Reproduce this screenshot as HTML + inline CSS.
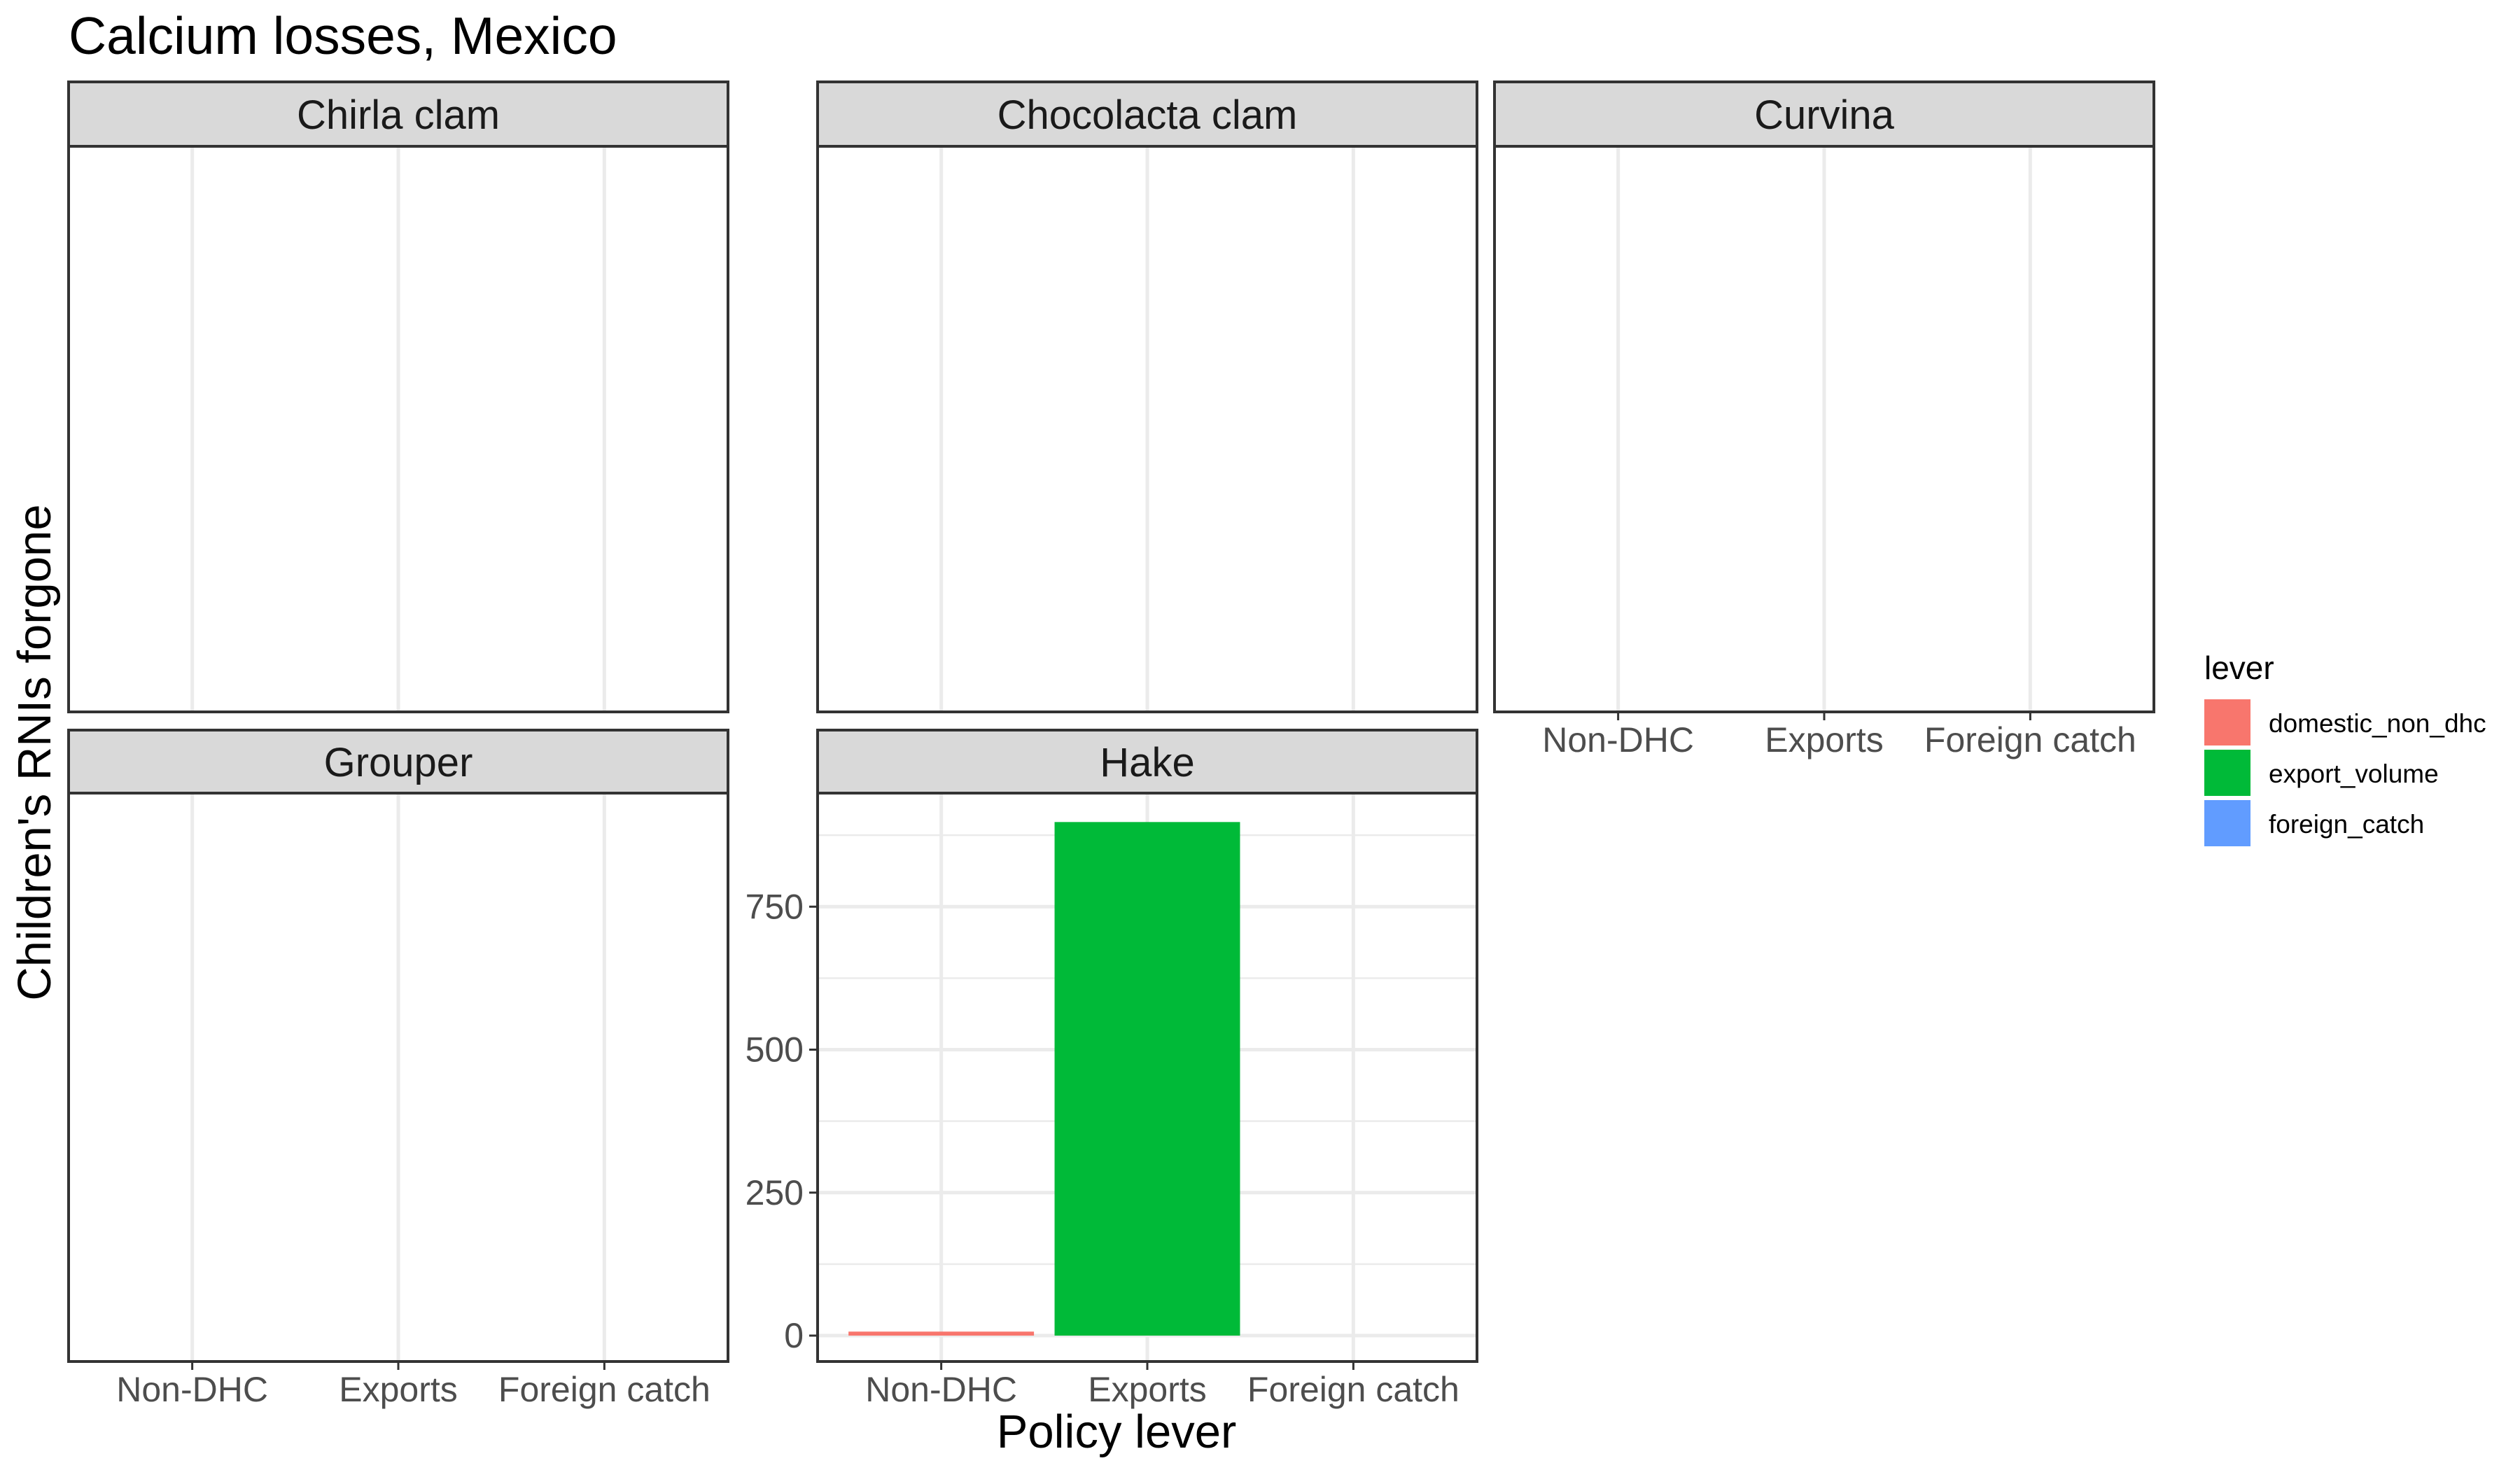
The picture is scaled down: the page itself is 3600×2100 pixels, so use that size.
<!DOCTYPE html>
<html><head><meta charset="utf-8"><style>
html,body{margin:0;padding:0;background:#fff}
svg{display:block;font-family:"Liberation Sans",Arial,sans-serif}
</style></head><body>
<svg id="chart" width="3600" height="2100" viewBox="0 0 3600 2100" xmlns="http://www.w3.org/2000/svg">
<rect width="3600" height="2100" fill="#fff"/>
<text x="98" y="77" font-size="75" fill="#000">Calcium losses, Mexico</text>
<g id="panels"></g>
<text x="1595" y="2068" font-size="67" text-anchor="middle" fill="#000">Policy lever</text>
<text transform="translate(72,1075) rotate(-90)" font-size="67" text-anchor="middle" fill="#000">Children's RNIs forgone</text>
<g>
<text x="3149" y="970" font-size="46" fill="#000">lever</text>
<rect x="3149" y="999" width="66" height="66" fill="#F8766D"/>
<text x="3241" y="1046" font-size="37" fill="#000">domestic_non_dhc</text>
<rect x="3149" y="1071" width="66" height="66" fill="#00BA38"/>
<text x="3241" y="1118" font-size="37" fill="#000">export_volume</text>
<rect x="3149" y="1143" width="66" height="66" fill="#619CFF"/>
<text x="3241" y="1190" font-size="37" fill="#000">foreign_catch</text>
</g>
</svg>
<script>
const categories = ["Non-DHC", "Exports", "Foreign catch"];
const hakeValues = [7, 898, 0];
const barColors = ["#F8766D", "#00BA38", "#619CFF"];
const hakeTicks = [0, 250, 500, 750];
const hakeMinor = [125, 375, 625, 875];

const NS = "http://www.w3.org/2000/svg";
const g = document.getElementById("panels");
function mk(tag, attrs, parent) {
  const e = document.createElementNS(NS, tag);
  for (const k in attrs) e.setAttribute(k, attrs[k]);
  (parent || g).appendChild(e);
  return e;
}
const panels = [
  {name:"Chirla clam", x:98, top:117, sb:209, bot:1017, xlab:false, hake:false},
  {name:"Chocolacta clam", x:1168, top:117, sb:209, bot:1017, xlab:false, hake:false},
  {name:"Curvina", x:2135, top:117, sb:209, bot:1017, xlab:true, hake:false},
  {name:"Grouper", x:98, top:1043, sb:1133, bot:1945, xlab:true, hake:false},
  {name:"Hake", x:1168, top:1043, sb:1133, bot:1945, xlab:true, hake:true}
];
const W = 942;
const step = W / 3.2;
function xc(i, p) { return p.x + step * (0.6 + i); }
const y0 = 1908, pxPerUnit = 0.817;
function yv(v) { return y0 - v * pxPerUnit; }

panels.forEach(p => {
  const slug = p.name.toLowerCase().replace(/\s+/g, "-");
  const pg = mk("g", {});
  
  
  const bg = mk("rect", {x:p.x, y:p.sb, width:W, height:p.bot-p.sb, fill:"#fff"}, pg);
  
  
  if (p.hake) {
    hakeMinor.forEach(v => {
      const l = mk("line", {x1:p.x, x2:p.x+W, y1:yv(v), y2:yv(v), stroke:"#ebebeb", "stroke-width":2.5}, pg);
      
      
    });
    hakeTicks.forEach(v => {
      const l = mk("line", {x1:p.x, x2:p.x+W, y1:yv(v), y2:yv(v), stroke:"#ebebeb", "stroke-width":5}, pg);
      
      
    });
  }
  categories.forEach((c, i) => {
    const l = mk("line", {x1:xc(i,p), x2:xc(i,p), y1:p.sb, y2:p.bot, stroke:"#ebebeb", "stroke-width":5}, pg);
    
    
  });
  if (p.hake) {
    hakeValues.forEach((v, i) => {
      if (v <= 0) return;
      const bw = step * 0.9;
      const b = mk("rect", {x:xc(i,p)-bw/2, y:yv(v), width:bw, height:y0-yv(v), fill:barColors[i]}, pg);
      
      
    });
    hakeTicks.forEach(v => {
      const t = mk("line", {x1:p.x-12, x2:p.x, y1:yv(v), y2:yv(v), stroke:"#333", "stroke-width":3}, pg);
      
      
      const tx = mk("text", {x:p.x-20, y:yv(v)+17, "font-size":50, fill:"#4d4d4d", "text-anchor":"end"}, pg);
      tx.textContent = v;
      
      
    });
  }
  const border = mk("rect", {x:p.x, y:p.top, width:W, height:p.bot-p.top, fill:"none", stroke:"#333", "stroke-width":4}, pg);
  
  
  const strip = mk("rect", {x:p.x, y:p.top, width:W, height:p.sb-p.top, fill:"#d9d9d9", stroke:"#333", "stroke-width":4}, pg);
  
  
  const st = mk("text", {x:p.x+W/2, y:(p.top+p.sb)/2+21, "font-size":58, fill:"#1a1a1a", "text-anchor":"middle"}, pg);
  st.textContent = p.name;
  
  
  if (p.xlab) {
    categories.forEach((c, i) => {
      const t = mk("line", {x1:xc(i,p), x2:xc(i,p), y1:p.bot, y2:p.bot+12, stroke:"#333", "stroke-width":3}, pg);
      
      
      const tx = mk("text", {x:xc(i,p), y:p.bot+57, "font-size":50, fill:"#4d4d4d", "text-anchor":"middle"}, pg);
      tx.textContent = c;
      
      
    });
  }
});
</script>
</body></html>
